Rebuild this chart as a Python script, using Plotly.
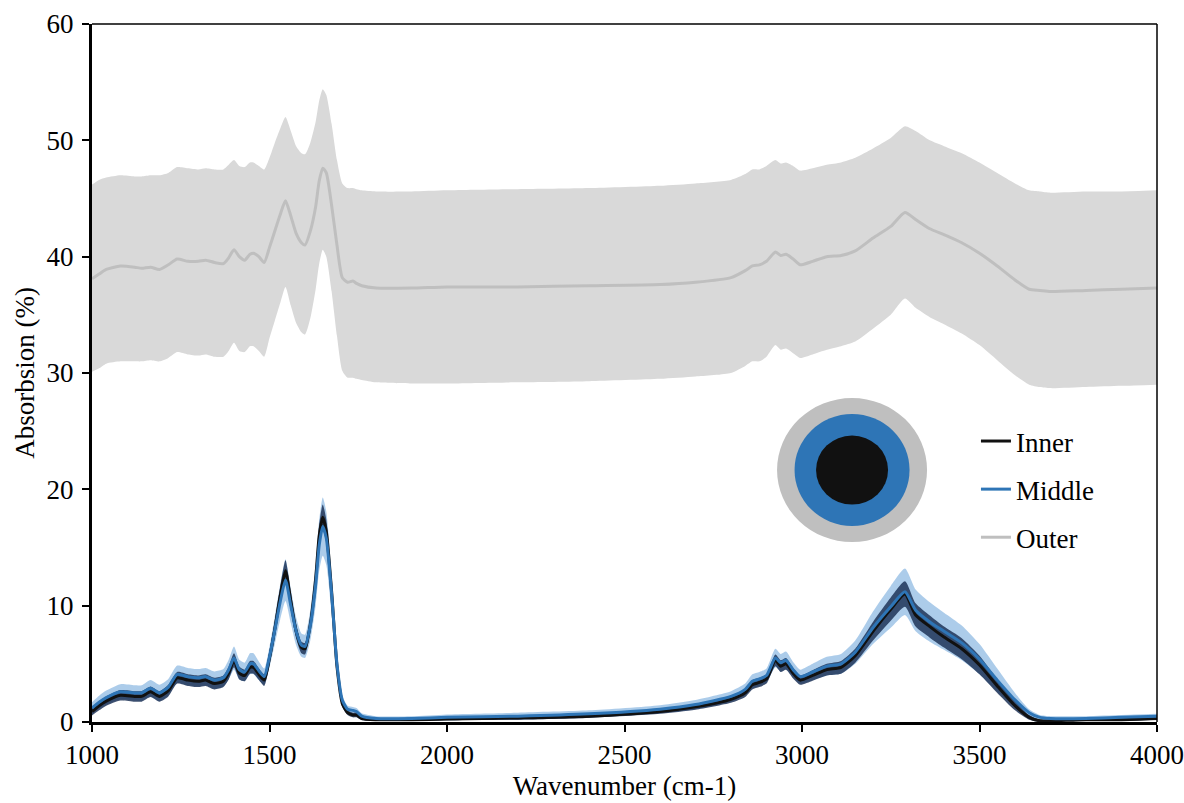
import numpy as np
import plotly.graph_objects as go

# Wavenumber grid (cm-1)
wavenumber = [1000, 1020, 1040, 1080, 1120, 1140, 1165, 1190, 1215, 1240, 1270, 1300, 1320, 1345, 1370,
              1385, 1400, 1415, 1430, 1445, 1455, 1470, 1485, 1500, 1515, 1530, 1545, 1560, 1575, 1590,
              1600, 1615, 1630, 1640, 1650, 1660, 1675, 1690, 1705, 1720, 1735, 1745, 1760, 1800, 1900,
              2000, 2200, 2400, 2600, 2700, 2800, 2840, 2860, 2880, 2900, 2925, 2940, 2955, 2975, 2995,
              3030, 3070, 3110, 3150, 3200, 3250, 3290, 3320, 3360, 3400, 3450, 3500, 3550, 3600, 3640,
              3670, 3700, 3800, 3900, 4000]

# Outer layer: mean spectrum and band limits (%)
outer_mean = [38.1, 38.5, 38.9, 39.2, 39.1, 39.0, 39.1, 38.9, 39.3, 39.8, 39.6, 39.6, 39.7, 39.5, 39.4,
              39.9, 40.6, 40.0, 39.7, 40.2, 40.3, 40.0, 39.5, 40.8, 42.2, 43.6, 44.8, 43.5, 42.0, 41.2,
              41.0, 42.2, 44.3, 46.5, 47.6, 47.2, 44.4, 41.0, 38.2, 37.8, 37.9, 37.7, 37.5, 37.3, 37.3,
              37.4, 37.4, 37.5, 37.6, 37.8, 38.2, 38.8, 39.2, 39.3, 39.6, 40.4, 40.1, 40.2, 39.8, 39.3,
              39.6, 40.0, 40.1, 40.5, 41.6, 42.6, 43.8, 43.2, 42.4, 41.9, 41.2, 40.3, 39.2, 38.0, 37.2,
              37.1, 37.0, 37.1, 37.2, 37.3]
outer_hi = [46.2, 46.6, 46.8, 47.0, 46.9, 46.9, 47.0, 47.0, 47.2, 47.7, 47.6, 47.5, 47.6, 47.5, 47.5,
            47.9, 48.3, 47.8, 47.7, 48.1, 48.1, 47.8, 47.5, 48.5, 49.8, 51.0, 52.0, 50.8, 49.5, 48.9,
            48.8, 49.8, 51.6, 53.4, 54.4, 53.9, 51.4, 48.3, 46.3, 45.9, 45.9, 45.8, 45.7, 45.6, 45.6,
            45.7, 45.8, 45.9, 46.1, 46.3, 46.6, 47.1, 47.5, 47.5, 47.8, 48.3, 48.0, 48.1, 47.8, 47.4,
            47.6, 47.9, 48.1, 48.5, 49.3, 50.2, 51.2, 50.8, 50.0, 49.5, 48.9, 48.1, 47.2, 46.3, 45.7,
            45.6, 45.5, 45.6, 45.6, 45.7]
outer_lo = [30.1, 30.4, 30.8, 31.0, 31.0, 31.0, 31.1, 31.0, 31.3, 31.8, 31.6, 31.5, 31.6, 31.4, 31.4,
            31.9, 32.6, 31.9, 31.8, 32.3, 32.3, 31.9, 31.4, 33.0, 34.5, 36.0, 37.4, 35.8, 34.3, 33.5,
            33.3, 34.7, 37.2, 39.4, 40.6, 40.0, 37.0, 33.2, 30.2, 29.6, 29.6, 29.5, 29.4, 29.2, 29.1,
            29.1, 29.2, 29.3, 29.5, 29.7, 30.0, 30.6, 31.0, 31.0, 31.4, 32.4, 32.0, 32.1, 31.7, 31.3,
            31.6, 32.0, 32.3, 32.7, 33.8, 35.0, 36.4, 35.6, 34.8, 34.2, 33.4, 32.4, 31.1, 29.8, 29.0,
            28.8, 28.7, 28.8, 28.9, 29.0]

# Middle layer: mean spectrum and standard deviation (%)
middle_mean = [1.2, 1.7, 2.1, 2.6, 2.5, 2.5, 2.9, 2.5, 3.0, 4.1, 3.9, 3.8, 3.9, 3.6, 3.8,
               4.5, 5.5, 4.5, 4.3, 5.0, 5.0, 4.4, 3.9, 5.6, 7.9, 10.3, 12.2, 10.0, 7.8, 6.6,
               6.5, 8.3, 11.8, 15.2, 16.8, 15.8, 11.0, 5.0, 1.9, 1.1, 1.0, 0.9, 0.5, 0.3, 0.3,
               0.4, 0.5, 0.7, 1.1, 1.5, 2.2, 2.8, 3.5, 3.7, 4.0, 5.5, 5.1, 5.3, 4.5, 3.9,
               4.3, 4.8, 5.0, 6.0, 8.1, 9.9, 11.2, 9.6, 8.6, 7.8, 6.8, 5.4, 3.6, 1.9, 0.8,
               0.4, 0.3, 0.3, 0.4, 0.5]
middle_sd = [0.5, 0.55, 0.6, 0.65, 0.65, 0.65, 0.7, 0.7, 0.7, 0.75, 0.75, 0.75, 0.75, 0.75, 0.75,
             0.85, 1.0, 0.85, 0.8, 0.9, 0.9, 0.8, 0.7, 0.9, 1.2, 1.5, 1.8, 1.5, 1.2, 1.0,
             1.0, 1.3, 1.8, 2.2, 2.5, 2.3, 1.7, 0.9, 0.4, 0.3, 0.3, 0.3, 0.25, 0.2, 0.2,
             0.25, 0.3, 0.3, 0.35, 0.4, 0.45, 0.5, 0.6, 0.6, 0.6, 0.8, 0.75, 0.75, 0.65, 0.6,
             0.7, 0.8, 0.85, 1.0, 1.4, 1.8, 2.0, 1.8, 1.7, 1.6, 1.5, 1.3, 1.0, 0.6, 0.3,
             0.2, 0.2, 0.2, 0.2, 0.2]

# Inner layer: mean spectrum and standard deviation (%)
inner_mean = [0.9, 1.4, 1.8, 2.3, 2.2, 2.2, 2.6, 2.2, 2.7, 3.8, 3.6, 3.5, 3.6, 3.3, 3.5,
              4.2, 5.3, 4.2, 4.0, 4.7, 4.7, 4.1, 3.6, 5.5, 8.0, 10.8, 13.0, 10.4, 7.8, 6.4,
              6.3, 8.4, 12.3, 16.0, 17.6, 16.4, 11.2, 4.8, 1.6, 0.8, 0.6, 0.6, 0.3, 0.2, 0.2,
              0.25, 0.35, 0.5, 0.9, 1.3, 1.95, 2.5, 3.2, 3.4, 3.7, 5.3, 4.8, 5.0, 4.2, 3.6,
              4.0, 4.5, 4.7, 5.7, 7.8, 9.7, 11.0, 9.2, 8.2, 7.3, 6.3, 4.9, 3.1, 1.4, 0.4,
              0.1, 0.1, 0.2, 0.2, 0.3]
inner_sd = [0.35, 0.4, 0.4, 0.45, 0.45, 0.45, 0.45, 0.45, 0.5, 0.5, 0.5, 0.5, 0.5, 0.5, 0.5,
            0.55, 0.6, 0.55, 0.5, 0.55, 0.55, 0.5, 0.5, 0.6, 0.7, 0.8, 0.9, 0.8, 0.6, 0.5,
            0.5, 0.6, 0.8, 1.0, 1.1, 1.0, 0.8, 0.5, 0.3, 0.2, 0.2, 0.2, 0.15, 0.1, 0.1,
            0.1, 0.15, 0.15, 0.2, 0.25, 0.3, 0.35, 0.4, 0.4, 0.4, 0.5, 0.5, 0.5, 0.45, 0.4,
            0.45, 0.5, 0.55, 0.6, 0.8, 1.0, 1.1, 1.0, 0.95, 0.9, 0.9, 0.8, 0.6, 0.4, 0.2,
            0.1, 0.1, 0.1, 0.1, 0.1]

x = np.array(wavenumber, dtype=float)
mid = np.array(middle_mean)
msd = np.array(middle_sd)
inn = np.array(inner_mean)
isd = np.array(inner_sd)

FONT = "Liberation Serif"
SPL = dict(shape="spline", smoothing=0.6)
TITLE_FONT = dict(family=FONT, size=27, color="black")
TICK_FONT = dict(family=FONT, size=27, color="black")

fig = go.Figure()

# Outer band + mean
fig.add_trace(go.Scatter(x=x, y=outer_lo, mode="lines", line=dict(width=0, **SPL),
                         showlegend=False, hoverinfo="skip"))
fig.add_trace(go.Scatter(x=x, y=outer_hi, mode="lines", line=dict(width=0, **SPL),
                         fill="tonexty", fillcolor="#d9d9d9", showlegend=False, hoverinfo="skip"))

# Middle band
fig.add_trace(go.Scatter(x=x, y=mid - msd, mode="lines", line=dict(width=0, **SPL),
                         showlegend=False, hoverinfo="skip"))
fig.add_trace(go.Scatter(x=x, y=mid + msd, mode="lines", line=dict(width=0, **SPL),
                         fill="tonexty", fillcolor="rgba(157,195,230,0.85)",
                         showlegend=False, hoverinfo="skip"))

# Inner band
fig.add_trace(go.Scatter(x=x, y=inn - isd, mode="lines", line=dict(width=0, **SPL),
                         showlegend=False, hoverinfo="skip"))
fig.add_trace(go.Scatter(x=x, y=inn + isd, mode="lines", line=dict(width=0, **SPL),
                         fill="tonexty", fillcolor="rgba(30,52,88,0.85)",
                         showlegend=False, hoverinfo="skip"))

# Mean lines (legend order: Inner, Middle, Outer)
fig.add_trace(go.Scatter(x=x, y=outer_mean, mode="lines", name="Outer",
                         line=dict(color="#bfbfbf", width=3, **SPL), legendrank=3,
                         legendgroup="o"))
fig.add_trace(go.Scatter(x=x, y=inn, mode="lines", name="Inner",
                         line=dict(color="#111111", width=3, **SPL), legendrank=1,
                         legendgroup="i"))
fig.add_trace(go.Scatter(x=x, y=mid, mode="lines", name="Middle",
                         line=dict(color="#2e75b6", width=3, **SPL), legendrank=2,
                         legendgroup="m"))

# Concentric-layer sketch (outer / middle / inner)
cx, cy = 3141, 21.66
for rx, ry, col in [(75, 72, "#bfbfbf"), (57.5, 56, "#2e75b6"), (36, 34.5, "#111111")]:
    fig.add_shape(type="circle", xref="x", yref="y", xsizemode="pixel", ysizemode="pixel",
                  xanchor=cx, yanchor=cy, x0=-rx, x1=rx, y0=-ry, y1=ry,
                  fillcolor=col, line=dict(width=0), layer="above")

# Thin frame on top and right
fig.add_shape(type="line", xref="paper", yref="paper", x0=0, x1=1, y0=1, y1=1,
              line=dict(color="black", width=1.5))
fig.add_shape(type="line", xref="paper", yref="paper", x0=1, x1=1, y0=0, y1=1,
              line=dict(color="black", width=1.5))

fig.update_layout(
    width=1184, height=803,
    margin=dict(l=92, r=27, t=24, b=81, autoexpand=False),
    paper_bgcolor="white", plot_bgcolor="white",
    font=dict(family=FONT, size=27, color="black"),
    showlegend=True,
    legend=dict(x=0.83, y=0.437, xanchor="left", yanchor="top",
                bgcolor="rgba(0,0,0,0)", tracegroupgap=10,
                font=dict(family=FONT, size=27, color="black"),
                itemwidth=30),
    xaxis=dict(range=[1000, 4000], tickmode="array",
               tickvals=[1000, 1500, 2000, 2500, 3000, 3500, 4000],
               ticks="outside", ticklen=7, tickwidth=2, tickcolor="black",
               showline=True, linecolor="black", linewidth=2.5, showgrid=False, zeroline=False,
               automargin=False,
               title=dict(text="Wavenumber (cm-1)", standoff=7, font=TITLE_FONT),
               tickfont=TICK_FONT),
    yaxis=dict(range=[0, 60], tickmode="array", tickvals=[0, 10, 20, 30, 40, 50, 60],
               ticks="outside", ticklen=7, tickwidth=2, tickcolor="black",
               showline=True, linecolor="black", linewidth=3, showgrid=False, zeroline=False,
               automargin=False, ticklabelstandoff=3,
               title=dict(text="Absorbsion (%)", standoff=5, font=TITLE_FONT),
               tickfont=TICK_FONT),
)

fig.write_html("out.html")
